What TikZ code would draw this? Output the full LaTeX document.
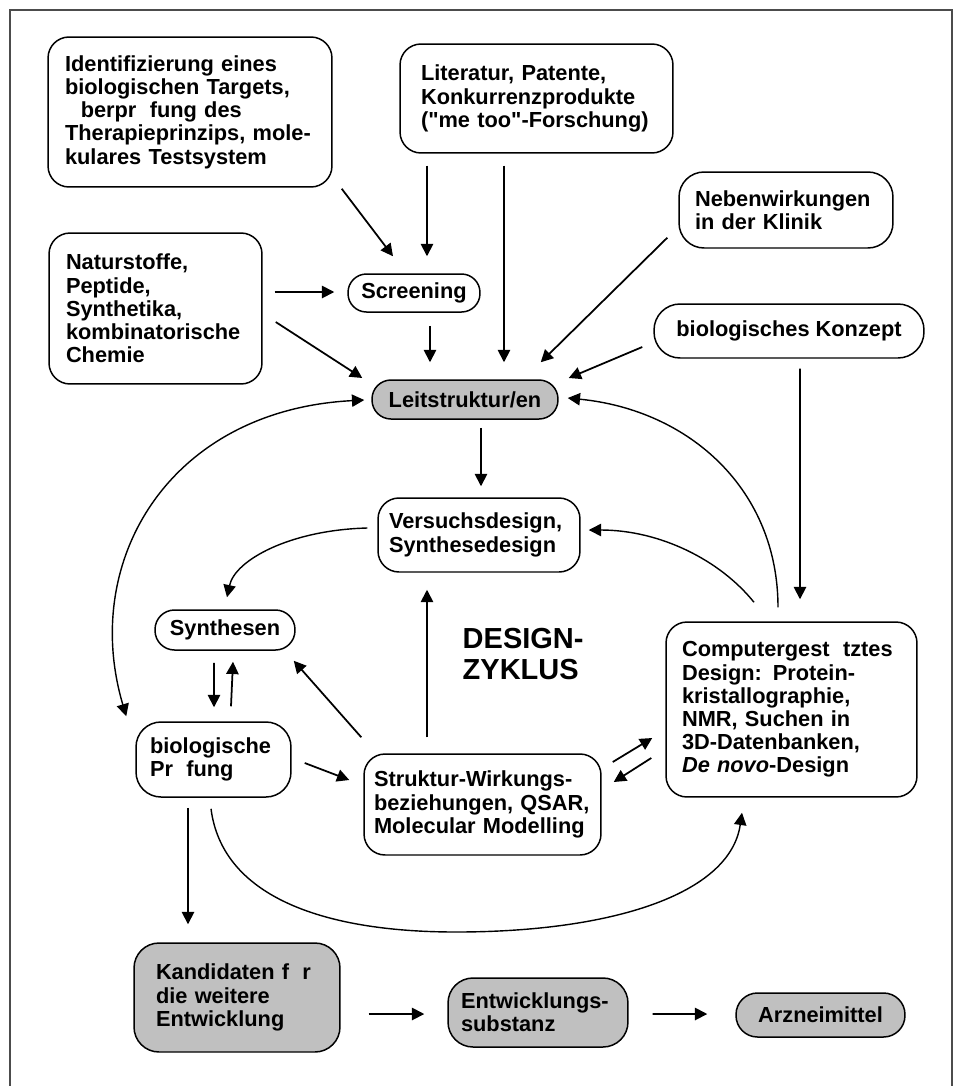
\documentclass[tikz,border=0pt]{standalone}
\usepackage{fontspec}
\setmainfont{Liberation Sans}[Ligatures=TeXOff]
\usepackage{tikz}
\usetikzlibrary{arrows.meta,calc}
\definecolor{leadgray}{RGB}{192,192,192}

\begin{document}
\begin{tikzpicture}[x=0.02cm, y=-0.02cm, line width=1pt,
    box/.style={draw, line width=0.85pt, rounded corners=0.42cm, align=left, inner ysep=2pt, font=\fontsize{12.4}{13.2}\selectfont\bfseries},
    pill/.style={draw, line width=0.85pt, align=center, inner sep=0pt, font=\fontsize{12.4}{13.2}\selectfont\bfseries},
    lead/.style={fill=leadgray},
    arr/.style={-{Triangle[length=7pt,width=7pt]}, line width=1pt},
    curvearr/.style={-{Triangle[length=7pt,width=7pt]}, line width=0.8pt},
    dbl/.style={{Triangle[length=7pt,width=7pt]}-{Triangle[length=7pt,width=7pt]}, line width=0.8pt}]
    \useasboundingbox (0,0) rectangle (953,1086);
    \draw[black!70, line width=0.8pt] (10,1086) -- (10,10) -- (952,10) -- (952,1086);

    \node[box, text width=5.0cm, inner xsep=0.34cm, minimum height=3cm] (ident) at (190,112)
        {Identifizierung eines\\biologischen Targets,\\\hspace*{.722em}berpr\hspace{.611em}fung des\\Therapieprinzips, mole-\\kulares Testsystem};
    \node[box, text width=4.62cm, inner xsep=0.42cm, minimum height=2.18cm] (lit) at (536.5,98.5)
        {Literatur, Patente,\\Konkurrenzprodukte\\("me too"-Forschung)};
    \node[box, text width=3.64cm, inner xsep=0.32cm, minimum height=1.52cm, rounded corners=0.5cm] (neben) at (786,210)
        {Nebenwirkungen\\in der Klinik};
    \node[pill, minimum width=5.4cm, minimum height=1.08cm, rounded corners=0.52cm] (konzept) at (789,331)
        {biologisches Konzept};
    \node[box, text width=3.58cm, inner xsep=0.34cm, minimum height=3.02cm] (natur) at (155.5,308.5)
        {Naturstoffe,\\Peptide,\\Synthetika,\\kombinatorische\\Chemie};
    \node[pill, minimum width=2.64cm, minimum height=0.76cm, rounded corners=0.37cm] (screen) at (414,293)
        {Screening};
    \node[pill, lead, minimum width=3.72cm, minimum height=0.78cm, rounded corners=0.38cm] (leit) at (465,399.5)
        {Leitstruktur/en};
    \node[box, text width=3.6cm, inner xsep=0.22cm, minimum height=1.48cm] (versuch) at (479,535)
        {Versuchsdesign,\\Synthesedesign};
    \node[pill, minimum width=2.8cm, minimum height=0.8cm, rounded corners=0.39cm] (synth) at (225,630)
        {Synthesen};
    \node[anchor=west, align=left, font=\fontsize{16.5}{18}\selectfont\bfseries] (zyklus) at (456,654)
        {DESIGN-\\ZYKLUS};
    \node[box, text width=4.38cm, inner xsep=0.32cm, minimum height=3.5cm] (comp) at (791.5,709.5)
        {Computergest\hspace{.611em}tztes\\Design: Protein-\\kristallographie,\\NMR, Suchen in\\3D-Datenbanken,\\\textit{De novo}-Design};
    \node[box, text width=2.54cm, inner xsep=0.28cm, minimum height=1.5cm, rounded corners=0.5cm] (biol) at (213.5,759.5)
        {biologische\\Pr\hspace{.611em}fung};
    \node[box, text width=4.34cm, inner xsep=0.2cm, minimum height=2.02cm] (struct) at (482.5,804.5)
        {Struktur-Wirkungs-\\beziehungen, QSAR,\\Molecular Modelling};
    \node[box, lead, text width=3.24cm, inner xsep=0.44cm, minimum height=2.18cm, rounded corners=0.5cm] (kand) at (237,997.5)
        {Kandidaten f\hspace{.611em}r\\die weitere\\Entwicklung};
    \node[box, lead, text width=3.08cm, inner xsep=0.26cm, minimum height=1.38cm, rounded corners=0.5cm] (entw) at (538,1012.5)
        {Entwicklungs-\\substanz};
    \node[pill, lead, minimum width=3.38cm, minimum height=0.88cm, rounded corners=0.43cm] (arz) at (820.5,1015)
        {Arzneimittel};

    \draw[arr] ($(ident.south east)+(9,1)$) -- ($(screen.north)+(-21,-17)$);
    \draw[arr] ($(lit.south)+(-109.5,12)$) -- ($(screen.north)+(13,-17)$);
    \draw[arr] ($(lit.south)+(-32.5,12)$) -- ($(leit.north)+(39,-17)$);
    \draw[arr] ($(neben.south west)+(-11,-11)$) -- ($(leit.north east)+(-18,-17)$);
    \draw[arr] ($(konzept.west)+(-11,16)$) -- ($(leit.east)+(10,-21.5)$);
    \draw[arr] ($(konzept.south)+(11,10)$) -- ($(comp.north)+(8.5,-22)$);
    \draw[arr] ($(natur.east)+(12,-16.5)$) -- ($(screen.west)+(-13,-1)$);
    \draw[arr] ($(natur.east)+(13,13.5)$) -- ($(leit.west)+(-9,-21.5)$);
    \draw[arr] ($(screen.south)+(16,13)$) -- ($(leit.north)+(-35,-17)$);

    \draw[arr] ($(leit.south)+(16,8)$) -- ($(versuch.north)+(2,-11)$);
    \draw[dbl] ($(leit.west)+(-7,0.5)$) .. controls (170,410) and (80,560) .. ($(biol.north west)+(-9,-5)$);
    \draw[curvearr] ($(versuch.west)+(-10,-7)$) .. controls (290,530) and (235,560) .. ($(synth.north)+(2,-12)$);
    \draw[curvearr] ($(comp.north)+(-13.5,-14)$) .. controls (778,490) and (690,410) .. ($(leit.east)+(9,-1.5)$);
    \draw[curvearr] ($(comp.north)+(-37.5,-19)$) .. controls (720,560) and (660,530) .. ($(versuch.east)+(8,-5)$);
    \draw[arr] ($(struct.north)+(-55.5,-16)$) -- ($(versuch.south)+(-52,17)$);
    \draw[arr] ($(struct.north west)+(-2,-16)$) -- ($(synth.south east)+(-2,10)$);
    \draw[arr] ($(synth.south)+(-11,12)$) -- ($(biol.north)+(0.5,-14)$);
    \draw[arr] ($(biol.north)+(17.5,-15)$) -- ($(synth.south)+(8,11)$);
    \draw[arr] ($(biol.east)+(13,3.5)$) -- ($(struct.west)+(-14,-24.5)$);
    \draw[arr] ($(struct.east)+(11,-42.5)$) -- ($(comp.west)+(-13,28.5)$);
    \draw[arr] ($(comp.west)+(-14,48.5)$) -- ($(struct.east)+(12,-22.5)$);
    \draw[curvearr] ($(biol.south)+(-2.5,11)$) .. controls (222,895) and (320,932) .. (456,932)
        .. controls (610,932) and (730,895) .. ($(comp.south)+(-49.5,15)$);

    \draw[arr] ($(biol.south)+(-25.5,10)$) -- ($(kand.north)+(-49,-18)$);
    \draw[arr] ($(kand.east)+(28,16.5)$) -- ($(entw.west)+(-23,1.5)$);
    \draw[arr] ($(entw.east)+(24,1.5)$) -- ($(arz.west)+(-28,-1)$);
\end{tikzpicture}
\end{document}
